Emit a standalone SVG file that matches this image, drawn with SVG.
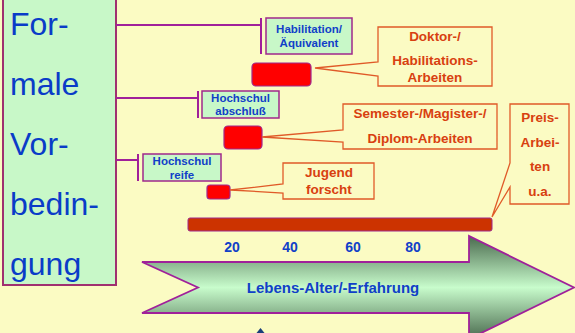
<svg xmlns="http://www.w3.org/2000/svg" width="575" height="333" viewBox="0 0 575 333">
<style>
.lbl{fill:#C8F8C8;stroke:#A0288C;stroke-width:1.5}
.lt{font-family:"Liberation Sans",Arial,sans-serif;font-weight:bold;font-size:11.5px;fill:#1040C8;text-anchor:middle}
.big{font-family:"Liberation Sans",Arial,sans-serif;font-size:32px;fill:#0A3CC8}
.red{fill:#FF0000;stroke:#A0288C;stroke-width:1.2}
.call{fill:#FBFBC3;stroke:#E05A28;stroke-width:1.3}
.ct{font-family:"Liberation Sans",Arial,sans-serif;font-weight:bold;font-size:13.5px;fill:#D84010;text-anchor:middle}
.num{font-family:"Liberation Sans",Arial,sans-serif;font-weight:bold;font-size:14px;fill:#1040C8;text-anchor:middle}
.con{stroke:#A0209A;stroke-width:2;fill:none}
</style>
<defs>
<linearGradient id="ag" x1="0" y1="236" x2="0" y2="339" gradientUnits="userSpaceOnUse">
<stop offset="0" stop-color="#4A6A4E"/>
<stop offset="0.5" stop-color="#C8FCCC"/>
<stop offset="1" stop-color="#4A6A4E"/>
</linearGradient>
</defs>
<rect x="0" y="0" width="575" height="333" fill="#FBFBC3"/>

<g id="formal">
<rect x="3" y="-1" width="113" height="286" fill="#C8F8C8" stroke="#A03070" stroke-width="2"/>
<text class="big" x="10" y="35">For-</text>
<text class="big" x="10" y="95">male</text>
<text class="big" x="10" y="155">Vor-</text>
<text class="big" x="10" y="215">bedin-</text>
<text class="big" x="10" y="275">gung</text>
</g>

<g id="connectors">
<path class="con" d="M116,25 H261 M261,18 V54"/>
<path class="con" d="M116,98 H198 M198,91 V118"/>
<path class="con" d="M116,160 H138 M138,154 V181"/>
</g>

<g id="habilitation">
<rect class="lbl" x="266" y="18" width="86" height="36"/>
<text class="lt" x="309" y="33">Habilitation/</text>
<text class="lt" x="309" y="47">Äquivalent</text>
</g>
<g id="hochschulabschluss">
<rect class="lbl" x="202" y="91" width="77" height="27"/>
<text class="lt" x="240.5" y="102">Hochschul</text>
<text class="lt" x="240.5" y="115">abschluß</text>
</g>
<g id="hochschulreife">
<rect class="lbl" x="143" y="154" width="78" height="27"/>
<text class="lt" x="182" y="165">Hochschul</text>
<text class="lt" x="182" y="179">reife</text>
</g>

<g id="red1"><rect class="red" x="252" y="63" width="59" height="23" rx="4"/></g>
<g id="red2"><rect class="red" x="224" y="126" width="38" height="23" rx="4"/></g>
<g id="red3"><rect class="red" x="207" y="185" width="23" height="14" rx="3"/></g>

<g id="doktor">
<path class="call" d="M378,27 H492 V86 H378 V76 L315,68 L378,62 Z"/>
<text class="ct" x="435" y="41">Doktor-/</text>
<text class="ct" x="435" y="65">Habilitations-</text>
<text class="ct" x="435" y="82">Arbeiten</text>
</g>
<g id="semester">
<path class="call" d="M343,104 H497 V149 H343 V142 L262,137 L343,130 Z"/>
<text class="ct" x="420" y="118">Semester-/Magister-/</text>
<text class="ct" x="420" y="143">Diplom-Arbeiten</text>
</g>
<g id="jugend">
<path class="call" d="M283,163 H374 V199 H283 V193 L230,190 L283,184 Z"/>
<text class="ct" x="329" y="177">Jugend</text>
<text class="ct" x="329" y="194">forscht</text>
</g>
<g id="preis">
<path class="call" d="M510,104 H569 V204 H510 V187 L492,217 L510,163 Z"/>
<text class="ct" x="540" y="122">Preis-</text>
<text class="ct" x="540" y="147">Arbei-</text>
<text class="ct" x="540" y="171">ten</text>
<text class="ct" x="540" y="196">u.a.</text>
</g>

<g id="timebar">
<rect x="188" y="218" width="304" height="13" rx="2" fill="#CC3300" stroke="#A0288C" stroke-width="1"/>
<text class="num" x="232" y="252">20</text>
<text class="num" x="290" y="252">40</text>
<text class="num" x="353" y="252">60</text>
<text class="num" x="413" y="252">80</text>
</g>

<g id="arrow">
<path d="M142,262 H469 V236 L574,287.5 L469,339 V313 H142 L198,287.5 Z" fill="url(#ag)" stroke="#A0209A" stroke-width="1.8"/>
<text x="333" y="293" font-family="Liberation Sans,Arial,sans-serif" font-weight="bold" font-size="15" fill="#1040C8" text-anchor="middle">Lebens-Alter/-Erfahrung</text>
</g>

<g id="smallarrow">
<path d="M256.5,333 L260.5,328 L264.5,333 Z" fill="#1A3E7A"/>
</g>
</svg>
